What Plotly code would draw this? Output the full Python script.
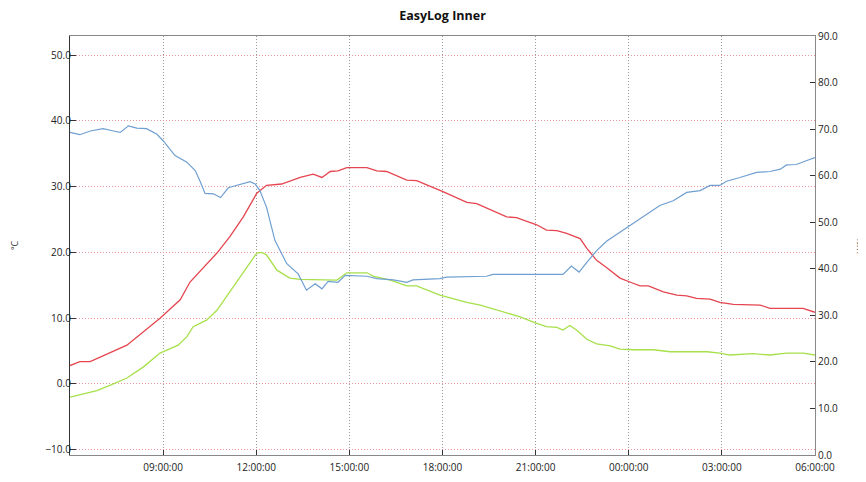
import plotly.graph_objects as go

DAY1 = "2020-06-01 "
DAY2 = "2020-06-02 "

# Temperature (°C, left axis) - red
temp_time = ["06:00", "06:19", "06:39", "07:50", "08:54", "09:33", "09:52", "10:24", "10:44", "11:09",
             "11:35", "12:01", "12:20", "12:49", "13:25", "13:50", "14:07", "14:23", "14:38", "14:55",
             "15:34", "15:53", "16:12", "16:51", "17:10", "18:02", "18:47", "19:06", "20:04", "20:23",
             "21:02", "21:21", "21:41", "22:00", "22:19", "22:26", "22:39", "22:58", "23:17", "23:43",
             "+00:02", "+00:22", "+00:38", "+01:07", "+01:33", "+01:52", "+02:11", "+02:37", "+02:56", "+03:22",
             "+04:14", "+04:33", "+05:37", "+05:50", "+06:00"]
temp_vals = [2.8, 3.4, 3.4, 5.9, 10.0, 12.8, 15.5, 18.3, 19.9, 22.4,
             25.4, 29.0, 30.2, 30.4, 31.4, 31.9, 31.4, 32.3, 32.4, 32.9,
             32.9, 32.4, 32.3, 31.0, 30.9, 29.2, 27.6, 27.4, 25.4, 25.3,
             24.2, 23.4, 23.3, 22.9, 22.4, 22.1, 20.6, 18.8, 17.7, 16.1,
             15.5, 14.9, 14.9, 14.0, 13.5, 13.4, 13.0, 12.9, 12.4, 12.1,
             12.0, 11.5, 11.5, 11.1, 10.9]

# Dew point (°C, left axis) - green
dew_time = ["06:00", "06:39", "06:52", "07:17", "07:50", "08:22", "08:54", "09:29", "09:46", "09:58",
            "10:24", "10:44", "11:09", "11:35", "12:01", "12:11", "12:20", "12:40", "13:05", "13:25",
            "14:36", "14:55", "15:34", "15:46", "16:19", "16:51", "17:10", "17:55", "18:47", "19:13",
            "20:04", "20:30", "21:02", "21:21", "21:41", "21:53", "22:06", "22:19", "22:39", "22:58",
            "23:24", "23:43", "+00:09", "+00:48", "+01:20", "+02:31", "+02:56", "+03:15", "+04:00", "+04:33",
            "+05:05", "+05:37", "+06:00"]
dew_vals = [-2.0, -1.3, -1.0, -0.2, 0.9, 2.6, 4.7, 5.9, 7.2, 8.7,
            9.7, 11.2, 14.0, 16.8, 19.9, 20.0, 19.6, 17.3, 16.1, 15.9,
            15.8, 16.9, 16.9, 16.4, 15.8, 14.9, 14.9, 13.5, 12.4, 12.0,
            10.8, 10.2, 9.2, 8.7, 8.6, 8.2, 8.9, 8.2, 6.8, 6.1,
            5.8, 5.3, 5.2, 5.2, 4.9, 4.9, 4.7, 4.4, 4.6, 4.4,
            4.7, 4.7, 4.4]

# Relative humidity (%rh, right axis) - blue
rh_time = ["06:00", "06:19", "06:39", "07:04", "07:24", "07:37", "07:53", "08:09", "08:28", "08:48",
           "09:00", "09:23", "09:46", "10:02", "10:11", "10:21", "10:37", "10:51", "11:06", "11:29",
           "11:48", "11:58", "12:07", "12:20", "12:36", "12:59", "13:21", "13:37", "13:54", "14:07",
           "14:19", "14:38", "14:52", "15:34", "15:53", "16:25", "16:51", "17:03", "17:55", "18:08",
           "19:25", "19:38", "21:53", "22:09", "22:24", "22:39", "22:58", "23:17", "23:37", "+00:02",
           "+00:28", "+01:00", "+01:26", "+01:52", "+02:18", "+02:37", "+02:56", "+03:09", "+03:35", "+04:07",
           "+04:33", "+04:53", "+05:05", "+05:24", "+05:43", "+06:00"]
rh_vals = [69.3, 68.8, 69.6, 70.1, 69.6, 69.3, 70.7, 70.2, 70.1, 68.9,
           67.5, 64.3, 62.9, 61.1, 58.9, 56.2, 56.1, 55.3, 57.4, 58.1,
           58.7, 58.2, 56.8, 53.2, 46.1, 41.1, 38.9, 35.4, 36.8, 35.7,
           37.3, 37.1, 38.6, 38.4, 37.9, 37.6, 37.1, 37.6, 37.9, 38.2,
           38.4, 38.8, 38.8, 40.6, 39.3, 41.4, 43.9, 45.9, 47.4, 49.3,
           51.1, 53.6, 54.6, 56.4, 56.8, 57.9, 57.9, 58.8, 59.6, 60.7,
           60.9, 61.4, 62.3, 62.4, 63.2, 63.9]

x_ticks = ["09:00", "12:00", "15:00", "18:00", "21:00", "+00:00", "+03:00", "+06:00"]
left_ticks = [-10, 0, 10, 20, 30, 40, 50]
right_ticks = [0, 10, 20, 30, 40, 50, 60, 70, 80, 90]


def to_dt(s):
    return (DAY2 + s[1:] if s.startswith("+") else DAY1 + s) + ":00"


FONT = "Open Sans"
TICKFONT = dict(family=FONT, size=10, color="#222")

fig = go.Figure()
fig.add_trace(go.Scatter(x=[to_dt(t) for t in rh_time], y=rh_vals, mode="lines",
                         line=dict(color="#6f9fd0", width=1.2), yaxis="y2", name="%rh"))
fig.add_trace(go.Scatter(x=[to_dt(t) for t in temp_time], y=temp_vals, mode="lines",
                         line=dict(color="#e5454f", width=1.3), name="Temperature"))
fig.add_trace(go.Scatter(x=[to_dt(t) for t in dew_time], y=dew_vals, mode="lines",
                         line=dict(color="#a6e04a", width=1.3), name="Dew Point"))

# the page body adds an 8px offset; the figure is sized so it still fits the window
fig.update_layout(
    width=858, height=474,
    margin=dict(l=62, r=51, t=28, b=27, autoexpand=False),
    paper_bgcolor="white", plot_bgcolor="white",
    showlegend=False,
    title=dict(text="<b>EasyLog Inner</b>", x=0.5, xref="paper", yref="container",
               y=1 - 3 / 474, yanchor="top",
               font=dict(family=FONT, size=12.5, color="#111")),
    xaxis=dict(
        type="date",
        range=[to_dt("06:00"), to_dt("+06:00")],
        tickvals=[to_dt(t) for t in x_ticks],
        tickformat="%H:%M:%S",
        ticks="inside", ticklen=5, tickcolor="#333",
        showgrid=True, gridcolor="#999999", griddash="1px,2px", gridwidth=1,
        showline=True, linecolor="#888", linewidth=1, mirror=True,
        tickfont=TICKFONT, zeroline=False, automargin=False,
        ticklabelstandoff=3,
    ),
    yaxis=dict(
        range=[-10.8, 52.9],
        tickvals=left_ticks, tickformat=".1f",
        ticks="inside", ticklen=6, tickcolor="#333",
        showgrid=True, gridcolor="#e8949a", griddash="1px,2px", gridwidth=1,
        showline=True, linecolor="#333", linewidth=1.2,
        tickfont=TICKFONT, zeroline=False, automargin=False,
        ticklabelstandoff=-4,
        title=dict(text="°C", font=dict(family=FONT, size=9, color="#333"), standoff=30),
    ),
    yaxis2=dict(
        overlaying="y", side="right",
        range=[0, 90],
        tickvals=right_ticks, tickformat=".1f",
        ticks="inside", ticklen=5, tickcolor="#333",
        showgrid=False,
        showline=True, linecolor="#888", linewidth=1,
        tickfont=TICKFONT, zeroline=False, automargin=False,
    ),
)

fig.add_annotation(text="%rh", xref="paper", yref="paper", x=1.0, xshift=45, y=0.5,
                   textangle=90, showarrow=False, xanchor="center",
                   font=dict(family=FONT, size=9, color="#333"))

fig.write_html("out.html")
